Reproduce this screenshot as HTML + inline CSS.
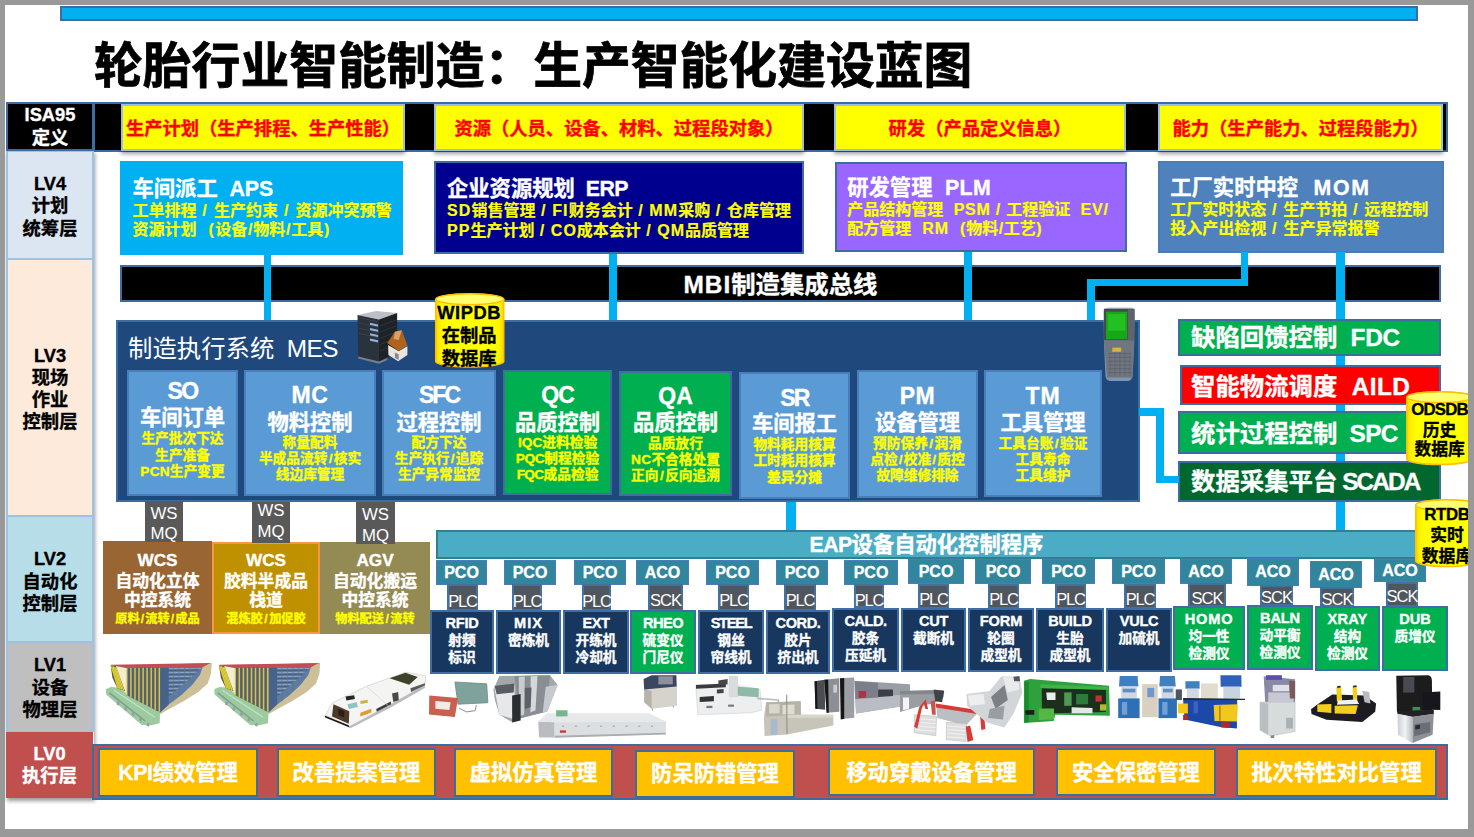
<!DOCTYPE html>
<html lang="zh-CN">
<head>
<meta charset="utf-8">
<title>轮胎行业智能制造：生产智能化建设蓝图</title>
<style>
html,body{margin:0;padding:0;}
body{width:1474px;height:837px;background:#999999;overflow:hidden;position:relative;
 font-family:"Liberation Sans","Noto Sans CJK SC",sans-serif;}
#slide{position:absolute;left:5px;top:5px;width:1463px;height:824px;background:#fff;overflow:hidden;}
#s{position:absolute;left:-5px;top:-5px;width:1474px;height:837px;}
.b{position:absolute;box-sizing:border-box;}
.l{position:absolute;left:-40px;right:-40px;text-align:center;white-space:nowrap;height:0;line-height:0;font-weight:700;-webkit-text-stroke:0.35px;}
.w{color:#fff;}
.y{color:#ffff00;}
.k{color:#000;}
.sh{}
.t{position:absolute;white-space:nowrap;line-height:0;height:0;font-weight:700;-webkit-text-stroke:0.35px;}
svg{position:absolute;overflow:visible;}
</style>
</head>
<body>
<div id="slide"><div id="s">

<div class="b" style="left:60px;top:6px;width:1358px;height:15px;background:#00b0f0;box-shadow:inset 0 0 0 2px #3d6c9e;"></div>
<div class="t k" style="left:94px;top:65.5px;font-size:48.8px;-webkit-text-stroke:0.8px;">轮胎行业智能制造：生产智能化建设蓝图</div>
<div class="b" style="left:93px;top:102px;width:1355px;height:50px;background:#000;box-shadow:inset 0 0 0 2px #3d6c9e;"></div>
<div class="b" style="left:6px;top:150px;width:88px;height:648px;box-shadow:1px 3px 4px rgba(0,0,0,.4);"></div>
<div class="b" style="left:6px;top:102px;width:88px;height:49px;background:#000;box-shadow:inset 0 0 0 2px #3d6c9e;"><div class="l" style="top:13.0px;color:#fff;font-size:18.3px;">ISA95</div><div class="l" style="top:36.4px;color:#fff;font-size:18.3px;">定义</div></div>
<div class="b" style="left:6px;top:151px;width:88px;height:108px;background:#dce6f2;box-shadow:inset 2px 0 0 #9cc2e5,inset -2px 0 0 #9cc2e5,inset 0 1px 0 #9cc2e5,inset 0 -1px 0 #9cc2e5;"><div class="l" style="top:32.8px;color:#000;font-size:18.3px;">LV4</div><div class="l" style="top:55.2px;color:#000;font-size:18.3px;">计划</div><div class="l" style="top:77.8px;color:#000;font-size:18.3px;">统筹层</div></div>
<div class="b" style="left:6px;top:259px;width:88px;height:257px;background:#fdeada;box-shadow:inset 2px 0 0 #9cc2e5,inset -2px 0 0 #9cc2e5,inset 0 1px 0 #9cc2e5,inset 0 -1px 0 #9cc2e5;"><div class="l" style="top:97.2px;color:#000;font-size:18.3px;">LV3</div><div class="l" style="top:119.1px;color:#000;font-size:18.3px;">现场</div><div class="l" style="top:140.6px;color:#000;font-size:18.3px;">作业</div><div class="l" style="top:162.5px;color:#000;font-size:18.3px;">控制层</div></div>
<div class="b" style="left:6px;top:516px;width:88px;height:126px;background:#b7dee8;box-shadow:inset 2px 0 0 #9cc2e5,inset -2px 0 0 #9cc2e5,inset 0 1px 0 #9cc2e5,inset 0 -1px 0 #9cc2e5;"><div class="l" style="top:43.0px;color:#000;font-size:18.3px;">LV2</div><div class="l" style="top:66.1px;color:#000;font-size:18.3px;">自动化</div><div class="l" style="top:88.0px;color:#000;font-size:18.3px;">控制层</div></div>
<div class="b" style="left:6px;top:642px;width:88px;height:90px;background:#bfbfbf;box-shadow:inset 2px 0 0 #9cc2e5,inset -2px 0 0 #9cc2e5,inset 0 1px 0 #9cc2e5,inset 0 -1px 0 #9cc2e5;"><div class="l" style="top:23.0px;color:#000;font-size:18.3px;">LV1</div><div class="l" style="top:45.5px;color:#000;font-size:18.3px;">设备</div><div class="l" style="top:68.0px;color:#000;font-size:18.3px;">物理层</div></div>
<div class="b" style="left:6px;top:732px;width:87px;height:66px;background:#c0504d;"><div class="l" style="top:22.0px;color:#fff;font-size:18.3px;">LV0</div><div class="l" style="top:44.0px;color:#fff;font-size:18.3px;">执行层</div></div>
<div class="b" style="left:121px;top:104px;width:284px;height:47px;background:#ffff00;box-shadow:inset 0 0 0 2px #9bbde8,0 3px 4px rgba(0,0,0,.38);"><div class="l" style="top:24.8px;color:#ff0000;font-size:18.3px;left:0;right:0;">生产计划（生产排程、生产性能）</div></div>
<div class="b" style="left:434px;top:104px;width:370px;height:47px;background:#ffff00;box-shadow:inset 0 0 0 2px #9bbde8,0 3px 4px rgba(0,0,0,.38);"><div class="l" style="top:24.8px;color:#ff0000;font-size:18.3px;left:0;right:0;">资源（人员、设备、材料、过程段对象）</div></div>
<div class="b" style="left:834px;top:104px;width:292px;height:47px;background:#ffff00;box-shadow:inset 0 0 0 2px #9bbde8,0 3px 4px rgba(0,0,0,.38);"><div class="l" style="top:24.8px;color:#ff0000;font-size:18.3px;left:0;right:0;">研发（产品定义信息）</div></div>
<div class="b" style="left:1158px;top:104px;width:285px;height:47px;background:#ffff00;box-shadow:inset 0 0 0 2px #9bbde8,0 3px 4px rgba(0,0,0,.38);"><div class="l" style="top:24.8px;color:#ff0000;font-size:18.3px;left:0;right:0;">能力（生产能力、过程段能力）</div></div>
<div class="b" style="left:1336px;top:252px;width:9px;height:280px;background:#00b0f0;"></div>
<div class="b" style="left:120px;top:161px;width:283px;height:94px;background:#00b0f0;"><div class="t w sh" style="left:12.5px;top:27.7px;font-size:21.3px;">车间派工<span style="letter-spacing:-0.06px">&nbsp; APS</span></div><div class="t y sh" style="left:12.5px;top:50.3px;font-size:16px;-webkit-text-stroke:0.2px;">工单排程<span style="letter-spacing:1.39px"> / </span>生产约束<span style="letter-spacing:1.39px"> / </span>资源冲突预警</div><div class="t y sh" style="left:12.5px;top:69.3px;font-size:16px;-webkit-text-stroke:0.2px;">资源计划<span style="letter-spacing:1.51px">&nbsp; (</span>设备<span style="margin:0 0.76px">/</span>物料<span style="margin:0 0.76px">/</span>工具<span style="margin:0 0.76px">)</span></div></div>
<div class="b" style="left:434px;top:161px;width:370px;height:93px;background:#00008e;box-shadow:inset 0 0 0 2px #3d6c9e;"><div class="t w sh" style="left:13px;top:27.8px;font-size:21.3px;">企业资源规划<span style="letter-spacing:-0.48px">&nbsp; ERP</span></div><div class="t y sh" style="left:13px;top:50.2px;font-size:16px;-webkit-text-stroke:0.2px;"><span style="letter-spacing:1.12px">SD</span>销售管理<span style="letter-spacing:1.12px"> / FI</span>财务会计<span style="letter-spacing:1.12px"> / MM</span>采购<span style="letter-spacing:1.12px"> / </span>仓库管理</div><div class="t y sh" style="left:13px;top:69.5px;font-size:16px;-webkit-text-stroke:0.2px;"><span style="letter-spacing:1.02px">PP</span>生产计划<span style="letter-spacing:1.02px"> / CO</span>成本会计<span style="letter-spacing:1.02px"> / QM</span>品质管理</div></div>
<div class="b" style="left:835px;top:162px;width:292px;height:90px;background:#9966ff;box-shadow:inset 0 0 0 2px #3d6c9e;"><div class="t w sh" style="left:12.25px;top:25.5px;font-size:21.3px;">研发管理<span style="letter-spacing:0.35px">&nbsp; PLM</span></div><div class="t y sh" style="left:12.25px;top:48.0px;font-size:16px;-webkit-text-stroke:0.2px;">产品结构管理<span style="letter-spacing:0.75px">&nbsp; PSM / </span>工程验证<span style="letter-spacing:0.75px">&nbsp; EV/</span></div><div class="t y sh" style="left:12.25px;top:66.8px;font-size:16px;-webkit-text-stroke:0.2px;">配方管理<span style="letter-spacing:1.00px">&nbsp; RM&nbsp; (</span>物料<span style="margin:0 0.50px">/</span>工艺<span style="margin:0 0.50px">)</span></div></div>
<div class="b" style="left:1158px;top:161px;width:286px;height:92px;background:#4f81bd;box-shadow:inset 0 0 0 2px #4a7cb6;"><div class="t w sh" style="left:12.25px;top:26.5px;font-size:21.3px;">工厂实时中控<span style="letter-spacing:1.77px">&nbsp; MOM</span></div><div class="t y sh" style="left:12.25px;top:49.4px;font-size:16px;-webkit-text-stroke:0.2px;">工厂实时状态<span style="letter-spacing:1.22px"> / </span>生产节拍<span style="letter-spacing:1.22px"> / </span>远程控制</div><div class="t y sh" style="left:12.25px;top:68.3px;font-size:16px;-webkit-text-stroke:0.2px;">投入产出检视<span style="letter-spacing:1.29px"> / </span>生产异常报警</div></div>
<div class="b" style="left:120px;top:265px;width:1321px;height:37px;background:#000;box-shadow:inset 0 0 0 2px #3d6c9e;"><div class="l w sh" style="top:19.5px;font-size:24.4px;left:0;right:0;"><span style="letter-spacing:0.98px">MBI</span>制造集成总线</div></div>
<div class="b" style="left:264px;top:255px;width:7px;height:66px;background:#00b0f0;"></div>
<div class="b" style="left:609px;top:254px;width:8px;height:67px;background:#00b0f0;"></div>
<div class="b" style="left:964px;top:252px;width:8px;height:69px;background:#00b0f0;"></div>
<div class="b" style="left:1336px;top:252px;width:9px;height:68px;background:#00b0f0;"></div>
<div class="b" style="left:1241px;top:252px;width:7px;height:34px;background:#00b0f0;"></div>
<div class="b" style="left:1087px;top:279px;width:161px;height:7px;background:#00b0f0;"></div>
<div class="b" style="left:1087px;top:279px;width:8px;height:42px;background:#00b0f0;"></div>
<div class="b" style="left:116px;top:320px;width:1024px;height:182px;background:#1f497d;box-shadow:inset 0 0 0 2px #3d6c9e;"><div class="t w" style="left:12px;top:29px;font-size:24.4px;font-weight:400;-webkit-text-stroke:0;">制造执行系统<span style="letter-spacing:-0.55px">&nbsp; MES</span></div></div>
<div class="b" style="left:127px;top:370px;width:111px;height:126px;background:#5b9bd5;box-shadow:inset 0 0 0 2px #4a7ebb;"><div class="l w sh" style="top:21.0px;font-size:23px;"><span style="letter-spacing:-1.72px">SO</span></div><div class="l w sh" style="top:47.5px;font-size:21.3px;">车间订单</div><div class="l y sh" style="top:68.5px;font-size:13.7px;">生产批次下达</div><div class="l y sh" style="top:85.5px;font-size:13.7px;">生产准备</div><div class="l y sh" style="top:102.0px;font-size:13.7px;"><span style="letter-spacing:0.20px">PCN</span>生产变更</div></div>
<div class="b" style="left:244px;top:370px;width:132px;height:126px;background:#5b9bd5;box-shadow:inset 0 0 0 2px #4a7ebb;"><div class="l w sh" style="top:25.0px;font-size:23px;"><span style="letter-spacing:0.61px">MC</span></div><div class="l w sh" style="top:52.5px;font-size:21.3px;">物料控制</div><div class="l y sh" style="top:72.5px;font-size:13.7px;">称量配料</div><div class="l y sh" style="top:89.0px;font-size:13.7px;">半成品流转<span style="margin:0 1.31px">/</span>核实</div><div class="l y sh" style="top:105.0px;font-size:13.7px;">线边库管理</div></div>
<div class="b" style="left:382px;top:370px;width:114px;height:126px;background:#5b9bd5;box-shadow:inset 0 0 0 2px #4a7ebb;"><div class="l w sh" style="top:25.0px;font-size:23px;"><span style="letter-spacing:-1.92px">SFC</span></div><div class="l w sh" style="top:52.5px;font-size:21.3px;">过程控制</div><div class="l y sh" style="top:72.5px;font-size:13.7px;">配方下达</div><div class="l y sh" style="top:89.0px;font-size:13.7px;">生产执行<span style="margin:0 1.28px">/</span>追踪</div><div class="l y sh" style="top:105.0px;font-size:13.7px;">生产异常监控</div></div>
<div class="b" style="left:503px;top:370px;width:109px;height:125px;background:#00b050;box-shadow:inset 0 0 0 2px #3f709c;"><div class="l w sh" style="top:25.0px;font-size:23px;"><span style="letter-spacing:-0.88px">QC</span></div><div class="l w sh" style="top:52.5px;font-size:21.3px;">品质控制</div><div class="l y sh" style="top:72.5px;font-size:13.7px;"><span style="letter-spacing:0.05px">IQC</span>进料检验</div><div class="l y sh" style="top:89.0px;font-size:13.7px;"><span style="letter-spacing:-0.39px">PQC</span>制程检验</div><div class="l y sh" style="top:105.0px;font-size:13.7px;"><span style="letter-spacing:-0.64px">FQC</span>成品检验</div></div>
<div class="b" style="left:619px;top:371px;width:113px;height:125px;background:#00b050;box-shadow:inset 0 0 0 2px #3f709c;"><div class="l w sh" style="top:25.0px;font-size:23px;"><span style="letter-spacing:0.12px">QA</span></div><div class="l w sh" style="top:52.0px;font-size:21.3px;">品质控制</div><div class="l y sh" style="top:72.5px;font-size:13.7px;">品质放行</div><div class="l y sh" style="top:88.5px;font-size:13.7px;"><span style="letter-spacing:0.27px">NC</span>不合格处置</div><div class="l y sh" style="top:105.0px;font-size:13.7px;">正向<span style="margin:0 1.41px">/</span>反向追溯</div></div>
<div class="b" style="left:739px;top:372px;width:111px;height:127px;background:#5b9bd5;box-shadow:inset 0 0 0 2px #4a7ebb;"><div class="l w sh" style="top:25.5px;font-size:23px;"><span style="letter-spacing:-1.73px">SR</span></div><div class="l w sh" style="top:52.0px;font-size:21.3px;">车间报工</div><div class="l y sh" style="top:72.5px;font-size:13.7px;">物料耗用核算</div><div class="l y sh" style="top:88.5px;font-size:13.7px;">工时耗用核算</div><div class="l y sh" style="top:106.0px;font-size:13.7px;">差异分摊</div></div>
<div class="b" style="left:857px;top:370px;width:121px;height:128px;background:#5b9bd5;box-shadow:inset 0 0 0 2px #4a7ebb;"><div class="l w sh" style="top:26.0px;font-size:23px;"><span style="letter-spacing:0.50px">PM</span></div><div class="l w sh" style="top:52.5px;font-size:21.3px;">设备管理</div><div class="l y sh" style="top:73.5px;font-size:13.7px;">预防保养<span style="margin:0 1.41px">/</span>润滑</div><div class="l y sh" style="top:89.5px;font-size:13.7px;">点检<span style="margin:0 1.13px">/</span>校准<span style="margin:0 1.13px">/</span>质控</div><div class="l y sh" style="top:106.0px;font-size:13.7px;">故障维修排除</div></div>
<div class="b" style="left:984px;top:370px;width:118px;height:127px;background:#5b9bd5;box-shadow:inset 0 0 0 2px #4a7ebb;"><div class="l w sh" style="top:26.0px;font-size:23px;"><span style="letter-spacing:1.02px">TM</span></div><div class="l w sh" style="top:52.5px;font-size:21.3px;">工具管理</div><div class="l y sh" style="top:73.5px;font-size:13.7px;">工具台账<span style="margin:0 1.41px">/</span>验证</div><div class="l y sh" style="top:89.5px;font-size:13.7px;">工具寿命</div><div class="l y sh" style="top:106.0px;font-size:13.7px;">工具维护</div></div>
<div class="b" style="left:1178px;top:319px;width:263px;height:37px;background:#00b050;box-shadow:inset 0 0 0 2px #3d6c9e;"><div class="t w sh" style="left:13px;top:18.5px;font-size:24.4px;">缺陷回馈控制<span style="letter-spacing:-0.21px">&nbsp; FDC</span></div></div>
<div class="b" style="left:1180px;top:365px;width:261px;height:40px;background:#ff0000;box-shadow:inset 0 0 0 2px #3d6c9e;"><div class="t w sh" style="left:11px;top:21.5px;font-size:24.4px;">智能物流调度<span style="letter-spacing:0.41px">&nbsp; AILD</span></div></div>
<div class="b" style="left:1178px;top:411px;width:263px;height:43px;background:#00b050;box-shadow:inset 0 0 0 2px #3d6c9e;"><div class="t w sh" style="left:13px;top:22.5px;font-size:24.4px;">统计过程控制<span style="letter-spacing:-0.66px">&nbsp; SPC</span></div></div>
<div class="b" style="left:1178px;top:461px;width:263px;height:41px;background:#00682f;box-shadow:inset 0 0 0 2px #3d6c9e;"><div class="t w sh" style="left:13px;top:21.0px;font-size:24.4px;">数据采集平台<span style="letter-spacing:-1.89px"> SCADA</span></div></div>
<div class="b" style="left:1139px;top:408px;width:25px;height:8px;background:#00b0f0;"></div>
<div class="b" style="left:1156px;top:408px;width:8px;height:75px;background:#00b0f0;"></div>
<div class="b" style="left:1156px;top:476px;width:23px;height:7px;background:#00b0f0;"></div>
<div class="b" style="left:786px;top:502px;width:10px;height:30px;background:#00b0f0;"></div>
<div class="b" style="left:103px;top:541px;width:109px;height:93px;background:#996633;"><div class="l w sh" style="top:19.0px;font-size:17.2px;">WCS</div><div class="l w sh" style="top:41.0px;font-size:16.8px;">自动化立体</div><div class="l w sh" style="top:60.0px;font-size:16.8px;">中控系统</div><div class="l y sh" style="top:77.5px;font-size:12.2px;">原料<span style="margin:0 1.15px">/</span>流转<span style="margin:0 1.15px">/</span>成品</div></div>
<div class="b" style="left:212px;top:542px;width:108px;height:92px;background:#bf9000;box-shadow:inset 0 0 0 2px #f79646;"><div class="l w sh" style="top:18.0px;font-size:17.2px;">WCS</div><div class="l w sh" style="top:40.0px;font-size:16.8px;">胶料半成品</div><div class="l w sh" style="top:59.0px;font-size:16.8px;">栈道</div><div class="l y sh" style="top:76.5px;font-size:12.2px;">混炼胶<span style="margin:0 1.49px">/</span>加促胶</div></div>
<div class="b" style="left:320px;top:542px;width:110px;height:92px;background:#948a54;"><div class="l w sh" style="top:18.0px;font-size:17.2px;">AGV</div><div class="l w sh" style="top:40.0px;font-size:16.8px;">自动化搬运</div><div class="l w sh" style="top:59.0px;font-size:16.8px;">中控系统</div><div class="l y sh" style="top:76.5px;font-size:12.2px;">物料配送<span style="margin:0 1.49px">/</span>流转</div></div>
<div class="b" style="left:145px;top:501px;width:38px;height:41px;background:#595959;"><div class="l w" style="top:12.5px;font-size:16.8px;font-weight:400;-webkit-text-stroke:0;">WS</div><div class="l w" style="top:33.2px;font-size:16.8px;font-weight:400;-webkit-text-stroke:0;">MQ</div></div>
<div class="b" style="left:252px;top:502px;width:38px;height:41px;background:#595959;"><div class="l w" style="top:9.2px;font-size:16.8px;font-weight:400;-webkit-text-stroke:0;">WS</div><div class="l w" style="top:29.8px;font-size:16.8px;font-weight:400;-webkit-text-stroke:0;">MQ</div></div>
<div class="b" style="left:356px;top:502px;width:39px;height:42px;background:#595959;"><div class="l w" style="top:12.6px;font-size:16.8px;font-weight:400;-webkit-text-stroke:0;">WS</div><div class="l w" style="top:33.5px;font-size:16.8px;font-weight:400;-webkit-text-stroke:0;">MQ</div></div>
<div class="b" style="left:436px;top:530px;width:1006px;height:29px;background:#4bacc6;box-shadow:inset 0 0 0 2px #357d91;"><div class="t w sh" style="left:373.5px;top:15.2px;font-size:21.3px;"><span style="letter-spacing:-0.57px">EAP</span>设备自动化控制程序</div></div>
<div class="b" style="left:436px;top:560px;width:51px;height:25px;background:#31859c;box-shadow:inset 0 0 0 1px #4a7ebb;"><div class="l w sh" style="top:13.0px;font-size:16px;">PCO</div></div>
<div class="b" style="left:504px;top:560px;width:52px;height:25px;background:#31859c;box-shadow:inset 0 0 0 1px #4a7ebb;"><div class="l w sh" style="top:13.0px;font-size:16px;">PCO</div></div>
<div class="b" style="left:574px;top:560px;width:52px;height:25px;background:#31859c;box-shadow:inset 0 0 0 1px #4a7ebb;"><div class="l w sh" style="top:13.0px;font-size:16px;">PCO</div></div>
<div class="b" style="left:636px;top:560px;width:53px;height:25px;background:#31859c;box-shadow:inset 0 0 0 1px #4a7ebb;"><div class="l w sh" style="top:13.0px;font-size:16px;">ACO</div></div>
<div class="b" style="left:706px;top:560px;width:53px;height:25px;background:#31859c;box-shadow:inset 0 0 0 1px #4a7ebb;"><div class="l w sh" style="top:13.0px;font-size:16px;">PCO</div></div>
<div class="b" style="left:776px;top:560px;width:52px;height:25px;background:#31859c;box-shadow:inset 0 0 0 1px #4a7ebb;"><div class="l w sh" style="top:13.0px;font-size:16px;">PCO</div></div>
<div class="b" style="left:844px;top:560px;width:54px;height:25px;background:#31859c;box-shadow:inset 0 0 0 1px #4a7ebb;"><div class="l w sh" style="top:13.0px;font-size:16px;">PCO</div></div>
<div class="b" style="left:908px;top:559px;width:56px;height:25px;background:#31859c;box-shadow:inset 0 0 0 1px #4a7ebb;"><div class="l w sh" style="top:13.1px;font-size:16px;">PCO</div></div>
<div class="b" style="left:975px;top:559px;width:56px;height:25px;background:#31859c;box-shadow:inset 0 0 0 1px #4a7ebb;"><div class="l w sh" style="top:13.1px;font-size:16px;">PCO</div></div>
<div class="b" style="left:1042px;top:559px;width:53px;height:25px;background:#31859c;box-shadow:inset 0 0 0 1px #4a7ebb;"><div class="l w sh" style="top:13.1px;font-size:16px;">PCO</div></div>
<div class="b" style="left:1112px;top:559px;width:53px;height:25px;background:#31859c;box-shadow:inset 0 0 0 1px #4a7ebb;"><div class="l w sh" style="top:13.1px;font-size:16px;">PCO</div></div>
<div class="b" style="left:1180px;top:559px;width:52px;height:25px;background:#31859c;box-shadow:inset 0 0 0 1px #4a7ebb;"><div class="l w sh" style="top:12.8px;font-size:16px;">ACO</div></div>
<div class="b" style="left:1247px;top:558px;width:52px;height:28px;background:#31859c;box-shadow:inset 0 0 0 1px #4a7ebb;"><div class="l w sh" style="top:14.1px;font-size:16px;">ACO</div></div>
<div class="b" style="left:1310px;top:561px;width:52px;height:27px;background:#31859c;box-shadow:inset 0 0 0 1px #4a7ebb;"><div class="l w sh" style="top:13.6px;font-size:16px;">ACO</div></div>
<div class="b" style="left:1374px;top:559px;width:52px;height:23px;background:#31859c;box-shadow:inset 0 0 0 1px #4a7ebb;"><div class="l w sh" style="top:12.1px;font-size:16px;">ACO</div></div>
<div class="b" style="left:447px;top:584px;width:31px;height:27px;background:#50565e;box-shadow:inset 0 0 0 2px #41719c;"><div class="l w" style="top:16.5px;font-size:16.5px;font-weight:400;letter-spacing:-1.2px;-webkit-text-stroke:0;">PLC</div></div>
<div class="b" style="left:512px;top:584px;width:30px;height:27px;background:#50565e;box-shadow:inset 0 0 0 2px #41719c;"><div class="l w" style="top:16.5px;font-size:16.5px;font-weight:400;letter-spacing:-1.2px;-webkit-text-stroke:0;">PLC</div></div>
<div class="b" style="left:582px;top:584px;width:29px;height:27px;background:#50565e;box-shadow:inset 0 0 0 2px #41719c;"><div class="l w" style="top:16.5px;font-size:16.5px;font-weight:400;letter-spacing:-1.2px;-webkit-text-stroke:0;">PLC</div></div>
<div class="b" style="left:648px;top:584px;width:35px;height:27px;background:#50565e;box-shadow:inset 0 0 0 2px #41719c;"><div class="l w" style="top:15.6px;font-size:16.5px;font-weight:400;letter-spacing:-0.9px;-webkit-text-stroke:0;">SCK</div></div>
<div class="b" style="left:718px;top:584px;width:31px;height:27px;background:#50565e;box-shadow:inset 0 0 0 2px #41719c;"><div class="l w" style="top:15.6px;font-size:16.5px;font-weight:400;letter-spacing:-1.2px;-webkit-text-stroke:0;">PLC</div></div>
<div class="b" style="left:784px;top:584px;width:32px;height:27px;background:#50565e;box-shadow:inset 0 0 0 2px #41719c;"><div class="l w" style="top:15.6px;font-size:16.5px;font-weight:400;letter-spacing:-1.2px;-webkit-text-stroke:0;">PLC</div></div>
<div class="b" style="left:854px;top:584px;width:30px;height:24px;background:#50565e;box-shadow:inset 0 0 0 2px #41719c;"><div class="l w" style="top:15.6px;font-size:16.5px;font-weight:400;letter-spacing:-1.2px;-webkit-text-stroke:0;">PLC</div></div>
<div class="b" style="left:918px;top:584px;width:31px;height:25px;background:#50565e;box-shadow:inset 0 0 0 2px #41719c;"><div class="l w" style="top:14.9px;font-size:16.5px;font-weight:400;letter-spacing:-1.2px;-webkit-text-stroke:0;">PLC</div></div>
<div class="b" style="left:988px;top:584px;width:31px;height:25px;background:#50565e;box-shadow:inset 0 0 0 2px #41719c;"><div class="l w" style="top:14.9px;font-size:16.5px;font-weight:400;letter-spacing:-1.2px;-webkit-text-stroke:0;">PLC</div></div>
<div class="b" style="left:1055px;top:584px;width:31px;height:25px;background:#50565e;box-shadow:inset 0 0 0 2px #41719c;"><div class="l w" style="top:14.9px;font-size:16.5px;font-weight:400;letter-spacing:-1.2px;-webkit-text-stroke:0;">PLC</div></div>
<div class="b" style="left:1124px;top:584px;width:32px;height:25px;background:#50565e;box-shadow:inset 0 0 0 2px #41719c;"><div class="l w" style="top:14.9px;font-size:16.5px;font-weight:400;letter-spacing:-1.2px;-webkit-text-stroke:0;">PLC</div></div>
<div class="b" style="left:1188px;top:583px;width:38px;height:24px;background:#50565e;box-shadow:inset 0 0 0 2px #41719c;"><div class="l w" style="top:15.0px;font-size:16.5px;font-weight:400;letter-spacing:-0.9px;-webkit-text-stroke:0;">SCK</div></div>
<div class="b" style="left:1260px;top:585px;width:33px;height:21px;background:#50565e;box-shadow:inset 0 0 0 2px #41719c;"><div class="l w" style="top:11.8px;font-size:16.5px;font-weight:400;letter-spacing:-0.9px;-webkit-text-stroke:0;">SCK</div></div>
<div class="b" style="left:1320px;top:587px;width:34px;height:20px;background:#50565e;box-shadow:inset 0 0 0 2px #41719c;"><div class="l w" style="top:11.9px;font-size:16.5px;font-weight:400;letter-spacing:-0.9px;-webkit-text-stroke:0;">SCK</div></div>
<div class="b" style="left:1386px;top:582px;width:32px;height:25px;background:#50565e;box-shadow:inset 0 0 0 2px #41719c;"><div class="l w" style="top:14.1px;font-size:16.5px;font-weight:400;letter-spacing:-0.9px;-webkit-text-stroke:0;">SCK</div></div>
<div class="b" style="left:430px;top:610px;width:64px;height:64px;background:#17375e;box-shadow:inset 0 0 0 2px #3e6ea5;"><div class="l w sh" style="top:12.6px;font-size:14.6px;"><span style="letter-spacing:-0.22px">RFID</span></div><div class="l w sh" style="top:31.2px;font-size:13.7px;">射频</div><div class="l w sh" style="top:47.6px;font-size:13.7px;">标识</div></div>
<div class="b" style="left:496px;top:610px;width:65px;height:64px;background:#17375e;box-shadow:inset 0 0 0 2px #3e6ea5;"><div class="l w sh" style="top:12.6px;font-size:14.6px;"><span style="letter-spacing:1.02px">MIX</span></div><div class="l w sh" style="top:31.2px;font-size:13.7px;">密炼机</div></div>
<div class="b" style="left:563px;top:610px;width:66px;height:64px;background:#17375e;box-shadow:inset 0 0 0 2px #3e6ea5;"><div class="l w sh" style="top:12.6px;font-size:14.6px;"><span style="letter-spacing:-0.53px">EXT</span></div><div class="l w sh" style="top:31.2px;font-size:13.7px;">开练机</div><div class="l w sh" style="top:47.6px;font-size:13.7px;">冷却机</div></div>
<div class="b" style="left:630px;top:610px;width:66px;height:64px;background:#00b050;box-shadow:inset 0 0 0 2px #3e6ea5;"><div class="l w sh" style="top:12.6px;font-size:14.6px;"><span style="letter-spacing:-0.54px">RHEO</span></div><div class="l w sh" style="top:31.2px;font-size:13.7px;">硫变仪</div><div class="l w sh" style="top:47.6px;font-size:13.7px;">门尼仪</div></div>
<div class="b" style="left:698px;top:610px;width:66px;height:64px;background:#17375e;box-shadow:inset 0 0 0 2px #3e6ea5;"><div class="l w sh" style="top:12.6px;font-size:14.6px;"><span style="letter-spacing:-1.27px">STEEL</span></div><div class="l w sh" style="top:31.2px;font-size:13.7px;">钢丝</div><div class="l w sh" style="top:47.6px;font-size:13.7px;">帘线机</div></div>
<div class="b" style="left:766px;top:610px;width:64px;height:64px;background:#17375e;box-shadow:inset 0 0 0 2px #3e6ea5;"><div class="l w sh" style="top:12.6px;font-size:14.6px;"><span style="letter-spacing:-0.43px">CORD.</span></div><div class="l w sh" style="top:31.2px;font-size:13.7px;">胶片</div><div class="l w sh" style="top:47.6px;font-size:13.7px;">挤出机</div></div>
<div class="b" style="left:832px;top:608px;width:67px;height:64px;background:#17375e;box-shadow:inset 0 0 0 2px #3e6ea5;"><div class="l w sh" style="top:12.6px;font-size:14.6px;"><span style="letter-spacing:-0.54px">CALD.</span></div><div class="l w sh" style="top:31.2px;font-size:13.7px;">胶条</div><div class="l w sh" style="top:47.6px;font-size:13.7px;">压延机</div></div>
<div class="b" style="left:901px;top:608px;width:65px;height:64px;background:#17375e;box-shadow:inset 0 0 0 2px #3e6ea5;"><div class="l w sh" style="top:12.6px;font-size:14.6px;"><span style="letter-spacing:-0.27px">CUT</span></div><div class="l w sh" style="top:31.2px;font-size:13.7px;">截断机</div></div>
<div class="b" style="left:968px;top:608px;width:66px;height:64px;background:#17375e;box-shadow:inset 0 0 0 2px #3e6ea5;"><div class="l w sh" style="top:12.6px;font-size:14.6px;"><span style="letter-spacing:-0.14px">FORM</span></div><div class="l w sh" style="top:31.2px;font-size:13.7px;">轮圈</div><div class="l w sh" style="top:47.6px;font-size:13.7px;">成型机</div></div>
<div class="b" style="left:1036px;top:608px;width:68px;height:64px;background:#17375e;box-shadow:inset 0 0 0 2px #3e6ea5;"><div class="l w sh" style="top:12.6px;font-size:14.6px;"><span style="letter-spacing:-0.18px">BUILD</span></div><div class="l w sh" style="top:31.2px;font-size:13.7px;">生胎</div><div class="l w sh" style="top:47.6px;font-size:13.7px;">成型机</div></div>
<div class="b" style="left:1106px;top:608px;width:66px;height:64px;background:#17375e;box-shadow:inset 0 0 0 2px #3e6ea5;"><div class="l w sh" style="top:12.6px;font-size:14.6px;"><span style="letter-spacing:-0.26px">VULC</span></div><div class="l w sh" style="top:31.2px;font-size:13.7px;">加硫机</div></div>
<div class="b" style="left:1173px;top:606px;width:72px;height:64px;background:#00b050;box-shadow:inset 0 0 0 2px #3e6ea5;"><div class="l w sh" style="top:12.6px;font-size:14.6px;"><span style="letter-spacing:0.82px">HOMO</span></div><div class="l w sh" style="top:31.2px;font-size:13.7px;">均一性</div><div class="l w sh" style="top:47.6px;font-size:13.7px;">检测仪</div></div>
<div class="b" style="left:1247px;top:605px;width:66px;height:65px;background:#00b050;box-shadow:inset 0 0 0 2px #3e6ea5;"><div class="l w sh" style="top:12.6px;font-size:14.6px;"><span style="letter-spacing:-0.16px">BALN</span></div><div class="l w sh" style="top:31.2px;font-size:13.7px;">动平衡</div><div class="l w sh" style="top:47.6px;font-size:13.7px;">检测仪</div></div>
<div class="b" style="left:1315px;top:606px;width:65px;height:65px;background:#00b050;box-shadow:inset 0 0 0 2px #3e6ea5;"><div class="l w sh" style="top:12.6px;font-size:14.6px;"><span style="letter-spacing:0.17px">XRAY</span></div><div class="l w sh" style="top:31.2px;font-size:13.7px;">结构</div><div class="l w sh" style="top:47.6px;font-size:13.7px;">检测仪</div></div>
<div class="b" style="left:1382px;top:606px;width:66px;height:65px;background:#00b050;box-shadow:inset 0 0 0 2px #3e6ea5;"><div class="l w sh" style="top:12.6px;font-size:14.6px;"><span style="letter-spacing:0.02px">DUB</span></div><div class="l w sh" style="top:31.2px;font-size:13.7px;">质增仪</div></div>
<div class="b" style="left:92px;top:744px;width:1356px;height:56px;background:#c0504d;box-shadow:inset 0 0 0 2px #3d6c9e;"></div>
<div class="b" style="left:98px;top:748px;width:160px;height:49px;background:#ffc000;box-shadow:inset 0 0 0 2px #3d6c9e;"><div class="l w" style="top:24.8px;font-size:21.3px;"><span style="letter-spacing:-0.32px">KPI</span>绩效管理</div></div>
<div class="b" style="left:277px;top:748px;width:159px;height:49px;background:#ffc000;box-shadow:inset 0 0 0 2px #3d6c9e;"><div class="l w" style="top:24.8px;font-size:21.3px;">改善提案管理</div></div>
<div class="b" style="left:454px;top:748px;width:159px;height:49px;background:#ffc000;box-shadow:inset 0 0 0 2px #3d6c9e;"><div class="l w" style="top:25.0px;font-size:21.3px;">虚拟仿真管理</div></div>
<div class="b" style="left:635px;top:750px;width:160px;height:48px;background:#ffc000;box-shadow:inset 0 0 0 2px #3d6c9e;"><div class="l w" style="top:24.2px;font-size:21.3px;">防呆防错管理</div></div>
<div class="b" style="left:828px;top:748px;width:207px;height:48px;background:#ffc000;box-shadow:inset 0 0 0 2px #3d6c9e;"><div class="l w" style="top:25.0px;font-size:21.3px;">移动穿戴设备管理</div></div>
<div class="b" style="left:1056px;top:748px;width:160px;height:48px;background:#ffc000;box-shadow:inset 0 0 0 2px #3d6c9e;"><div class="l w" style="top:24.5px;font-size:21.3px;">安全保密管理</div></div>
<div class="b" style="left:1236px;top:748px;width:201px;height:49px;background:#ffc000;box-shadow:inset 0 0 0 2px #3d6c9e;"><div class="l w" style="top:24.8px;font-size:21.3px;">批次特性对比管理</div></div>
<svg style="left:0;top:0" width="1474" height="837" viewBox="0 0 1474 837"><defs><filter id="bl" x="-5%" y="-5%" width="110%" height="110%"><feGaussianBlur stdDeviation="0.7"/></filter><linearGradient id="dubg" x1="0" x2="1" y1="0" y2="0"><stop offset="0" stop-color="#c9ced2"/><stop offset="0.5" stop-color="#f2f4f5"/><stop offset="1" stop-color="#b5babf"/></linearGradient></defs><g filter="url(#bl)"><polygon points="105.9,689.3 110.9,687.1 117.5,687.4 160.1,712.1 159.6,723.3 151.5,725.2 141.8,724.9 123.4,709.3 106.2,694.5" fill="#9ccba0" /><polyline points="109.4,692.9 145.2,721.0" fill="none" stroke="#7f9a92" stroke-width="1.4" /><polyline points="114.0,690.3 154.6,717.1" fill="none" stroke="#c6e3c4" stroke-width="1.2" /><polygon points="117.2,701.5 119.7,702.1 119.0,705.5 116.5,704.6" fill="#8fa3a0" /><polygon points="124.7,706.8 127.1,707.4 126.5,710.9 124.0,709.9" fill="#8fa3a0" /><polygon points="132.1,712.1 134.6,712.7 134.0,716.2 131.5,715.2" fill="#8fa3a0" /><polygon points="139.6,717.4 142.1,718.0 141.5,721.5 139.0,720.5" fill="#8fa3a0" /><polygon points="147.1,722.7 149.6,723.3 149.0,726.8 146.5,725.8" fill="#8fa3a0" /><polygon points="202.2,665.3 211.7,663.1 211.1,673.4 207.7,683.5 198.3,692.1 184.3,700.7 168.7,709.3 160.1,714.3 160.1,712.1" fill="#cdbf96" /><polygon points="160.1,666.2 203.3,665.1 199.9,675.0 192.1,685.1 181.1,695.2 168.7,704.6 160.1,712.4" fill="#5b7ba5" /><polyline points="160.5,668.7 201.4,668.3" fill="none" stroke="#93b2d6" stroke-width="0.8" /><polyline points="160.5,670.6 199.2,670.1" fill="none" stroke="#42587c" stroke-width="0.9" /><polyline points="160.5,672.8 196.7,672.3" fill="none" stroke="#93b2d6" stroke-width="0.8" /><polyline points="160.5,674.7 194.6,674.2" fill="none" stroke="#42587c" stroke-width="0.9" /><polyline points="160.5,676.8 192.1,676.4" fill="none" stroke="#93b2d6" stroke-width="0.8" /><polyline points="160.5,678.7 189.9,678.2" fill="none" stroke="#42587c" stroke-width="0.9" /><polyline points="160.5,680.9 187.4,680.4" fill="none" stroke="#93b2d6" stroke-width="0.8" /><polyline points="160.5,682.8 185.2,682.3" fill="none" stroke="#42587c" stroke-width="0.9" /><polyline points="160.5,685.0 182.7,684.5" fill="none" stroke="#93b2d6" stroke-width="0.8" /><polyline points="160.5,686.8 180.5,686.4" fill="none" stroke="#42587c" stroke-width="0.9" /><polyline points="160.5,689.0 178.0,688.5" fill="none" stroke="#93b2d6" stroke-width="0.8" /><polyline points="160.5,690.9 175.8,690.4" fill="none" stroke="#42587c" stroke-width="0.9" /><polyline points="160.5,693.1 173.3,692.6" fill="none" stroke="#93b2d6" stroke-width="0.8" /><polyline points="160.5,694.9 171.1,694.5" fill="none" stroke="#42587c" stroke-width="0.9" /><polyline points="160.5,697.1 168.7,696.7" fill="none" stroke="#93b2d6" stroke-width="0.8" /><polyline points="160.5,699.0 166.5,698.5" fill="none" stroke="#42587c" stroke-width="0.9" /><polyline points="160.5,701.2 164.0,700.7" fill="none" stroke="#93b2d6" stroke-width="0.8" /><polyline points="160.5,703.1 162.4,702.6" fill="none" stroke="#42587c" stroke-width="0.9" /><polyline points="160.5,705.2 162.4,704.8" fill="none" stroke="#93b2d6" stroke-width="0.8" /><polyline points="160.5,707.1 162.4,706.6" fill="none" stroke="#42587c" stroke-width="0.9" /><polyline points="173.3,666.2 173.3,701.5" fill="none" stroke="#7a6f5a" stroke-width="0.6" /><polyline points="179.0,666.2 179.0,694.9" fill="none" stroke="#7a6f5a" stroke-width="0.6" /><polyline points="184.6,666.2 184.6,688.4" fill="none" stroke="#7a6f5a" stroke-width="0.6" /><polyline points="190.2,666.2 190.2,681.8" fill="none" stroke="#7a6f5a" stroke-width="0.6" /><polyline points="195.8,666.2 195.8,675.3" fill="none" stroke="#7a6f5a" stroke-width="0.6" /><polyline points="201.4,666.2 201.4,668.7" fill="none" stroke="#7a6f5a" stroke-width="0.6" /><polygon points="160.1,666.2 168.7,666.1 168.7,704.6 160.1,712.4" fill="#48628a" /><polygon points="126.2,667.5 160.1,666.2 160.1,712.4 126.2,694.9" fill="#56607a" /><polyline points="126.8,667.5 126.8,695.6" fill="none" stroke="#d6c63a" stroke-width="1.5" /><polyline points="130.9,667.5 130.9,697.6" fill="none" stroke="#d6c63a" stroke-width="1.5" /><polyline points="135.0,667.5 135.0,699.6" fill="none" stroke="#d6c63a" stroke-width="1.5" /><polyline points="139.0,667.5 139.0,701.6" fill="none" stroke="#d6c63a" stroke-width="1.5" /><polyline points="143.1,667.5 143.1,703.7" fill="none" stroke="#d6c63a" stroke-width="1.5" /><polyline points="147.1,667.5 147.1,705.7" fill="none" stroke="#d6c63a" stroke-width="1.5" /><polyline points="151.2,667.5 151.2,707.7" fill="none" stroke="#d6c63a" stroke-width="1.5" /><polyline points="155.2,667.5 155.2,709.8" fill="none" stroke="#d6c63a" stroke-width="1.5" /><polyline points="159.3,667.5 159.3,711.8" fill="none" stroke="#d6c63a" stroke-width="1.5" /><polygon points="115.3,665.6 126.5,667.5 126.5,694.5 123.4,689.8" fill="#f1edd2" /><polygon points="110.6,665.3 115.6,665.6 125.0,690.9 117.5,688.4 112.5,678.1" fill="#5a5b3c" /><polyline points="111.5,666.2 118.4,688.4" fill="none" stroke="#dccb38" stroke-width="1.6" /><polyline points="113.0,666.5 120.1,689.0" fill="none" stroke="#dccb38" stroke-width="1.6" /><polyline points="114.4,666.9 121.8,689.6" fill="none" stroke="#dccb38" stroke-width="1.6" /><polyline points="115.8,667.2 123.6,690.3" fill="none" stroke="#dccb38" stroke-width="1.6" /><polygon points="110.6,664.7 211.7,663.1 203.0,665.8 151.5,667.3 126.2,668.1 115.3,665.9" fill="#c34d57" /><polygon points="151.5,664.4 209.2,663.4 202.2,667.6 160.1,667.8 151.5,667.3" fill="#c34d57" /><polygon points="214.3,689.3 219.3,687.1 225.9,687.4 268.5,712.1 268.0,723.3 259.9,725.2 250.2,724.9 231.8,709.3 214.6,694.5" fill="#9ccba0" /><polyline points="217.8,692.9 253.6,721.0" fill="none" stroke="#7f9a92" stroke-width="1.4" /><polyline points="222.4,690.3 263.0,717.1" fill="none" stroke="#c6e3c4" stroke-width="1.2" /><polygon points="225.6,701.5 228.1,702.1 227.4,705.5 224.9,704.6" fill="#8fa3a0" /><polygon points="233.1,706.8 235.5,707.4 234.9,710.9 232.4,709.9" fill="#8fa3a0" /><polygon points="240.5,712.1 243.0,712.7 242.4,716.2 239.9,715.2" fill="#8fa3a0" /><polygon points="248.0,717.4 250.5,718.0 249.9,721.5 247.4,720.5" fill="#8fa3a0" /><polygon points="255.5,722.7 258.0,723.3 257.4,726.8 254.9,725.8" fill="#8fa3a0" /><polygon points="310.6,665.3 320.1,663.1 319.5,673.4 316.1,683.5 306.7,692.1 292.7,700.7 277.1,709.3 268.5,714.3 268.5,712.1" fill="#cdbf96" /><polygon points="268.5,666.2 311.7,665.1 308.3,675.0 300.5,685.1 289.5,695.2 277.1,704.6 268.5,712.4" fill="#5b7ba5" /><polyline points="268.9,668.7 309.8,668.3" fill="none" stroke="#93b2d6" stroke-width="0.8" /><polyline points="268.9,670.6 307.6,670.1" fill="none" stroke="#42587c" stroke-width="0.9" /><polyline points="268.9,672.8 305.1,672.3" fill="none" stroke="#93b2d6" stroke-width="0.8" /><polyline points="268.9,674.7 303.0,674.2" fill="none" stroke="#42587c" stroke-width="0.9" /><polyline points="268.9,676.8 300.5,676.4" fill="none" stroke="#93b2d6" stroke-width="0.8" /><polyline points="268.9,678.7 298.3,678.2" fill="none" stroke="#42587c" stroke-width="0.9" /><polyline points="268.9,680.9 295.8,680.4" fill="none" stroke="#93b2d6" stroke-width="0.8" /><polyline points="268.9,682.8 293.6,682.3" fill="none" stroke="#42587c" stroke-width="0.9" /><polyline points="268.9,685.0 291.1,684.5" fill="none" stroke="#93b2d6" stroke-width="0.8" /><polyline points="268.9,686.8 288.9,686.4" fill="none" stroke="#42587c" stroke-width="0.9" /><polyline points="268.9,689.0 286.4,688.5" fill="none" stroke="#93b2d6" stroke-width="0.8" /><polyline points="268.9,690.9 284.2,690.4" fill="none" stroke="#42587c" stroke-width="0.9" /><polyline points="268.9,693.1 281.7,692.6" fill="none" stroke="#93b2d6" stroke-width="0.8" /><polyline points="268.9,694.9 279.5,694.5" fill="none" stroke="#42587c" stroke-width="0.9" /><polyline points="268.9,697.1 277.1,696.7" fill="none" stroke="#93b2d6" stroke-width="0.8" /><polyline points="268.9,699.0 274.9,698.5" fill="none" stroke="#42587c" stroke-width="0.9" /><polyline points="268.9,701.2 272.4,700.7" fill="none" stroke="#93b2d6" stroke-width="0.8" /><polyline points="268.9,703.1 270.8,702.6" fill="none" stroke="#42587c" stroke-width="0.9" /><polyline points="268.9,705.2 270.8,704.8" fill="none" stroke="#93b2d6" stroke-width="0.8" /><polyline points="268.9,707.1 270.8,706.6" fill="none" stroke="#42587c" stroke-width="0.9" /><polyline points="281.7,666.2 281.7,701.5" fill="none" stroke="#7a6f5a" stroke-width="0.6" /><polyline points="287.4,666.2 287.4,694.9" fill="none" stroke="#7a6f5a" stroke-width="0.6" /><polyline points="293.0,666.2 293.0,688.4" fill="none" stroke="#7a6f5a" stroke-width="0.6" /><polyline points="298.6,666.2 298.6,681.8" fill="none" stroke="#7a6f5a" stroke-width="0.6" /><polyline points="304.2,666.2 304.2,675.3" fill="none" stroke="#7a6f5a" stroke-width="0.6" /><polyline points="309.8,666.2 309.8,668.7" fill="none" stroke="#7a6f5a" stroke-width="0.6" /><polygon points="268.5,666.2 277.1,666.1 277.1,704.6 268.5,712.4" fill="#48628a" /><polygon points="234.6,667.5 268.5,666.2 268.5,712.4 234.6,694.9" fill="#56607a" /><polyline points="235.2,667.5 235.2,695.6" fill="none" stroke="#d6c63a" stroke-width="1.5" /><polyline points="239.3,667.5 239.3,697.6" fill="none" stroke="#d6c63a" stroke-width="1.5" /><polyline points="243.4,667.5 243.4,699.6" fill="none" stroke="#d6c63a" stroke-width="1.5" /><polyline points="247.4,667.5 247.4,701.6" fill="none" stroke="#d6c63a" stroke-width="1.5" /><polyline points="251.5,667.5 251.5,703.7" fill="none" stroke="#d6c63a" stroke-width="1.5" /><polyline points="255.5,667.5 255.5,705.7" fill="none" stroke="#d6c63a" stroke-width="1.5" /><polyline points="259.6,667.5 259.6,707.7" fill="none" stroke="#d6c63a" stroke-width="1.5" /><polyline points="263.6,667.5 263.6,709.8" fill="none" stroke="#d6c63a" stroke-width="1.5" /><polyline points="267.7,667.5 267.7,711.8" fill="none" stroke="#d6c63a" stroke-width="1.5" /><polygon points="223.7,665.6 234.9,667.5 234.9,694.5 231.8,689.8" fill="#f1edd2" /><polygon points="219.0,665.3 224.0,665.6 233.4,690.9 225.9,688.4 220.9,678.1" fill="#5a5b3c" /><polyline points="219.9,666.2 226.8,688.4" fill="none" stroke="#dccb38" stroke-width="1.6" /><polyline points="221.4,666.5 228.5,689.0" fill="none" stroke="#dccb38" stroke-width="1.6" /><polyline points="222.8,666.9 230.2,689.6" fill="none" stroke="#dccb38" stroke-width="1.6" /><polyline points="224.2,667.2 232.0,690.3" fill="none" stroke="#dccb38" stroke-width="1.6" /><polygon points="219.0,664.7 320.1,663.1 311.4,665.8 259.9,667.3 234.6,668.1 223.7,665.9" fill="#c34d57" /><polygon points="259.9,664.4 317.6,663.4 310.6,667.6 268.5,667.8 259.9,667.3" fill="#c34d57" /><polygon points="325.5,715.2 332.2,703.0 366.4,686.3 405.5,672.2 425.6,675.9 425.0,685.0 388.4,705.8 349.3,726.5" fill="#f4f4f2" stroke="#cfcfcf" stroke-width="0.7"/><polygon points="349.3,726.5 388.4,705.8 425.0,685.0 424.8,688.1 388.4,708.8 349.9,728.4" fill="#b9bbbd" /><polygon points="324.6,715.6 348.7,725.3 349.5,727.4 325.1,717.6" fill="#1f1f1f" /><polygon points="333.4,704.2 349.3,711.3 348.8,723.7 332.0,716.4" fill="#4d3b2b" /><polygon points="338.3,708.8 344.4,711.3 344.2,717.4 338.3,715.2" fill="#2a1c14" /><polygon points="345.6,696.6 354.2,695.2 354.9,699.1 346.4,700.5" fill="#262626" /><polygon points="347.5,704.2 356.6,702.2 357.9,707.1 348.8,709.1" fill="#8fc2c2" /><polygon points="360.3,701.0 367.6,699.7 367.9,702.7 360.5,704.1" fill="#c9b540" /><polygon points="360.3,712.7 371.3,708.8 371.3,712.5 360.3,716.4" fill="#e39a2c" /><polygon points="392.0,693.6 398.1,692.0 398.8,700.3 393.3,702.1" fill="#4a4a4a" /><polygon points="376.2,709.1 390.8,701.5 391.1,704.2 376.8,711.8" fill="#3a3a3a" /><polygon points="389.6,678.3 405.5,672.7 417.7,677.1 409.1,684.7" fill="#3e4229" /><polygon points="410.4,688.3 425.0,683.2 425.0,685.2 411.1,692.0" fill="#5a5a5a" /><polyline points="366.4,686.3 388.4,705.8" fill="none" stroke="#d5d5d5" stroke-width="0.7" /><polygon points="454.9,682.0 486.7,683.8 487.9,702.7 458.0,704.2" fill="#7fa39c" stroke="#6a8c86" stroke-width="0.8" stroke-linejoin="round"/><polyline points="459.2,708.2 466.5,711.9 475.1,710.7 476.3,705.2" fill="none" stroke="#8a8f92" stroke-width="1.0" /><polygon points="429.3,695.4 458.0,697.9 454.9,716.9 429.0,714.5" fill="#c85e50" /><polygon points="435.4,701.0 450.6,702.2 449.4,710.1 435.4,708.8" fill="#f1ebe6" /><polygon points="499.4,676.0 550.1,675.2 557.6,684.9 547.2,711.5 520.3,718.5 512.8,722.5 499.4,714.8 494.9,699.9 493.4,689.4" fill="#a3a7ac" /><polygon points="514.3,676.0 550.1,675.2 545.7,711.8 520.3,718.1" fill="#8a8d93" /><polygon points="518.8,676.7 524.8,676.6 524.2,714.8 519.1,716.3" fill="#c9ccd0" /><polygon points="530.7,676.3 537.5,676.1 535.5,710.3 530.4,712.5" fill="#d5d8db" /><polygon points="524.8,687.9 531.5,687.6 530.7,707.3 524.8,709.1" fill="#5d6066" /><polygon points="494.2,686.7 514.3,683.7 515.2,719.6 499.4,714.8" fill="#e6e8ea" /><polygon points="494.6,686.1 514.3,683.4 513.7,692.4 496.7,694.2" fill="#5a5d62" /><polygon points="512.1,695.4 520.6,693.9 520.6,720.4 512.2,722.5" fill="#2c2e33" /><polygon points="545.7,686.7 557.6,684.9 547.5,711.2 542.7,712.7" fill="#c6c9cd" /><polygon points="538.2,721.5 554.6,722.2 554.6,737.5 539.1,737.5" fill="#b9bdc1" /><polygon points="547.2,713.3 648.7,713.3 666.1,721.5 554.6,722.2 538.2,721.5" fill="#e6e8e9" /><polygon points="554.6,722.2 666.1,721.5 665.8,734.2 554.6,737.5" fill="#dcdfe1" /><polygon points="554.6,735.7 665.8,732.7 665.8,734.5 554.6,737.8" fill="#a9adb1" /><polygon points="556.1,710.3 567.5,710.3 567.5,716.3 556.1,716.6" fill="#74b78a" /><polygon points="559.9,730.4 566.0,730.4 566.0,732.7 559.9,732.7" fill="#d23030" /><polygon points="562.1,725.5 564.2,725.5 564.2,727.0 562.1,727.0" fill="#aeb4ba" /><polygon points="574.8,725.5 576.9,725.5 576.9,727.0 574.8,727.0" fill="#aeb4ba" /><polygon points="587.5,725.5 589.6,725.5 589.6,727.0 587.5,727.0" fill="#aeb4ba" /><polygon points="600.1,725.5 602.2,725.5 602.2,727.0 600.1,727.0" fill="#aeb4ba" /><polygon points="612.8,725.5 614.9,725.5 614.9,727.0 612.8,727.0" fill="#aeb4ba" /><polygon points="625.5,725.5 627.6,725.5 627.6,727.0 625.5,727.0" fill="#aeb4ba" /><polygon points="638.2,725.5 640.3,725.5 640.3,727.0 638.2,727.0" fill="#aeb4ba" /><polygon points="650.9,725.5 653.0,725.5 653.0,727.0 650.9,727.0" fill="#aeb4ba" /><polygon points="644.2,689.1 677.0,686.1 677.0,705.8 651.6,708.8 644.2,702.2" fill="#d6d3cc" /><polygon points="644.2,689.1 651.6,690.9 651.6,708.8 644.2,702.2" fill="#b6b3ac" /><polygon points="651.6,675.2 676.4,675.2 676.7,686.4 644.2,689.4 643.6,679.0" fill="#3b4662" /><polygon points="658.4,676.3 672.8,676.3 672.8,684.3 658.4,684.6" fill="#8c919c" /><polyline points="652.4,708.5 652.4,710.6" fill="none" stroke="#999" stroke-width="1" /><polyline points="673.3,705.8 673.3,707.6" fill="none" stroke="#999" stroke-width="1" /><polygon points="695.7,684.9 727.3,683.7 760.1,689.4 761.6,710.3 751.2,712.7 697.8,714.8" fill="#eceeef" stroke="#c4c7ca" stroke-width="0.5"/><polygon points="696.0,684.9 725.8,683.4 725.8,687.3 696.0,688.8" fill="#3a3a3c" /><polygon points="699.7,696.9 713.9,696.1 713.9,701.3 699.7,702.1" fill="#333" /><polygon points="716.9,689.4 723.6,689.1 723.6,693.1 716.9,693.4" fill="#444" /><polygon points="728.8,676.0 738.1,676.0 738.1,697.2 728.8,697.2" fill="#d9dcde" /><polygon points="718.4,680.4 727.6,679.0 727.6,684.3 718.4,685.2" fill="#45474b" /><polygon points="737.8,686.7 758.7,688.2 758.7,697.2 737.8,695.7" fill="#8fb9a8" /><polygon points="706.4,705.8 712.4,705.8 712.4,708.1 706.4,708.1" fill="#777" /><polygon points="728.1,704.6 734.0,704.6 734.0,706.7 728.1,706.7" fill="#777" /><polyline points="757.2,698.4 778.1,699.9 779.6,705.8" fill="none" stroke="#b4bcc4" stroke-width="1.6" /><polygon points="763.9,716.6 766.1,702.8 800.7,701.3 801.2,714.8 833.3,714.8 833.3,725.5 787.0,734.5 764.6,736.0" fill="#c7c5b9" /><polygon points="766.1,702.2 800.7,701.3 800.7,714.8 766.1,716.6" fill="#b5b3a5" /><polygon points="769.1,704.3 779.6,704.0 779.6,713.3 769.1,713.6" fill="#d9d7cb" /><polygon points="782.5,705.1 794.5,704.6 794.5,714.2 782.5,714.5" fill="#dedcd0" /><polygon points="787.0,714.8 833.3,714.8 833.3,717.5 787.0,718.1" fill="#d9d7cc" /><polygon points="770.6,719.3 777.5,719.3 777.5,734.5 770.6,735.1" fill="#a8bacb" /><polyline points="786.7,694.6 787.0,734.2" fill="none" stroke="#8d8b80" stroke-width="1.0" /><polygon points="814.6,681.2 824.6,679.7 825.2,709.7 815.4,708.8" fill="#4c4e53" /><polygon points="814.6,681.2 816.9,680.9 817.6,709.1 815.4,708.8" fill="#17181a" /><polygon points="824.3,679.7 839.3,678.2 839.3,711.8 826.6,712.7" fill="#8c8f94" /><polygon points="824.3,679.7 828.2,679.4 828.8,712.7 826.6,712.7" fill="#151618" /><polygon points="840.0,678.2 844.6,678.1 844.6,718.7 840.7,719.6" fill="#131416" /><polygon points="844.6,678.1 854.2,677.5 854.2,717.8 844.6,718.7" fill="#9b9ea3" /><polygon points="833.3,684.9 837.0,684.6 837.0,692.4 833.3,692.7" fill="#c9ccd0" /><polygon points="854.2,680.7 910.0,684.2 910.0,705.1 856.0,713.6" fill="#9a9ea5" /><polygon points="855.7,698.4 910.0,693.9 910.0,705.1 856.0,713.6" fill="#b9bcc2" /><polygon points="854.9,681.2 878.1,682.7 878.1,697.6 855.4,699.1" fill="#7b7f8a" /><polygon points="858.7,690.9 866.1,690.9 866.1,697.6 858.7,698.1" fill="#b03040" /><polygon points="878.1,689.4 893.0,689.4 893.0,696.1 878.1,696.9" fill="#3c3e44" /><polygon points="900.0,690.9 943.6,690.1 943.6,697.2 934.3,703.1 916.4,707.3 900.0,712.1" fill="#9a9ea3" /><polygon points="903.0,697.6 909.0,697.6 909.0,709.1 903.0,710.3" fill="#f4f4f4" /><polygon points="900.0,690.9 934.3,690.3 934.3,693.9 900.0,694.6" fill="#83878d" /><polygon points="933.6,689.4 944.2,690.9 942.1,702.2 935.2,701.3" fill="#404246" /><polygon points="936.6,707.3 977.6,713.3 965.7,725.5 937.3,718.1" fill="#bbbfc3" /><polygon points="914.2,714.8 936.6,716.3 935.8,735.7 914.2,732.7" fill="#dedede" stroke="#b5b5b5" stroke-width="0.5"/><polygon points="946.3,722.2 966.6,723.7 965.7,741.6 946.3,739.6" fill="#dedede" stroke="#b5b5b5" stroke-width="0.5"/><polyline points="914.9,718.5 935.8,720.0" fill="none" stroke="#f6f6f6" stroke-width="0.8" /><polyline points="947.0,726.0 965.7,727.5" fill="none" stroke="#f6f6f6" stroke-width="0.8" /><polyline points="914.9,722.2 935.8,723.7" fill="none" stroke="#f6f6f6" stroke-width="0.8" /><polyline points="947.0,729.6 965.7,731.0" fill="none" stroke="#f6f6f6" stroke-width="0.8" /><polyline points="914.9,726.0 935.8,727.5" fill="none" stroke="#f6f6f6" stroke-width="0.8" /><polyline points="947.0,733.1 965.7,734.6" fill="none" stroke="#f6f6f6" stroke-width="0.8" /><polyline points="914.9,729.7 935.8,731.2" fill="none" stroke="#f6f6f6" stroke-width="0.8" /><polyline points="947.0,736.7 965.7,738.2" fill="none" stroke="#f6f6f6" stroke-width="0.8" /><polygon points="935.8,703.6 983.6,711.0 983.6,715.1 935.8,707.6" fill="#d63a36" /><polygon points="979.9,713.3 983.9,713.3 985.4,729.1 981.3,730.0" fill="#d63a36" /><polygon points="965.7,726.7 970.1,725.5 973.4,740.1 967.5,741.9" fill="#d63a36" /><polygon points="914.2,726.7 919.1,707.6 925.7,699.3 928.1,709.1 925.4,709.1 923.9,703.6 921.8,708.5 917.3,728.5" fill="#d63a36" /><polygon points="930.6,701.3 935.1,700.6 935.8,714.8 932.1,714.8" fill="#c8524e" /><polygon points="966.4,693.9 989.6,690.9 1001.5,676.3 1019.4,676.9 1022.4,692.4 1013.7,713.3 1004.5,727.6 986.6,722.5 967.2,706.1" fill="#d3d6d9" /><polygon points="991.0,696.9 1004.5,684.9 1007.8,699.9 995.5,709.1" fill="#7d8186" /><polygon points="1003.0,677.2 1017.9,677.5 1019.4,689.4 1007.5,692.4" fill="#e9ebec" /><polygon points="989.6,709.1 1004.5,705.8 1003.0,719.6 988.1,718.1" fill="#9a9ea3" /><polygon points="967.9,695.4 983.6,693.9 985.1,704.3 970.1,705.8" fill="#eceeef" /><polygon points="1013.4,676.7 1019.4,676.0 1020.1,681.2 1014.2,681.2" fill="#55585d" /><polygon points="1023.9,680.7 1030.1,679.0 1109.0,685.7 1109.9,715.7 1055.2,714.8 1053.7,721.0 1023.9,723.1" fill="#2fa03c" /><polygon points="1041.8,688.2 1106.0,689.7 1106.0,712.1 1041.8,713.6" fill="#1b2e1e" /><polygon points="1040.3,684.2 1108.2,686.7 1108.2,689.7 1040.3,687.9" fill="#3db54a" /><polygon points="1046.3,692.4 1055.5,692.4 1055.5,699.9 1047.0,699.9" fill="#e9efe9" /><polygon points="1064.2,692.4 1071.6,692.4 1071.6,705.8 1064.2,705.8" fill="#4e9a55" /><polygon points="1076.1,693.9 1088.1,693.9 1088.1,704.3 1076.1,704.6" fill="#2f7a3a" /><polygon points="1095.5,695.4 1101.8,695.4 1101.8,701.6 1095.5,701.6" fill="#c43030" /><polygon points="1100.0,704.3 1106.3,704.3 1106.3,710.6 1100.0,710.6" fill="#b5b830" /><polygon points="1038.8,708.5 1054.0,708.5 1054.0,719.6 1038.8,719.9" fill="#55b845" /><polygon points="1024.6,681.9 1028.7,681.3 1028.7,722.2 1024.6,722.5" fill="#1f8a2c" /><polygon points="1071.6,707.3 1092.5,708.1 1092.5,713.3 1071.6,713.3" fill="#e4e8e4" /><polygon points="1025.4,710.3 1034.3,710.0 1034.3,714.8 1025.4,714.8" fill="#1c1c1c" /><polygon points="1119.7,676.0 1137.6,676.0 1138.4,686.4 1119.0,686.4" fill="#3f7fc0" /><polygon points="1121.2,686.4 1136.9,686.4 1136.9,698.7 1121.2,698.7" fill="#cfd9e4" /><polygon points="1122.7,688.7 1135.4,688.7 1135.4,692.4 1122.7,692.4" fill="#5f8fc4" /><polygon points="1118.2,698.4 1139.6,698.4 1139.6,718.1 1118.2,718.1" fill="#2f6fb5" /><polygon points="1121.9,702.1 1127.2,702.1 1127.2,714.8 1121.9,714.8" fill="#6fa0d6" /><polygon points="1160.0,676.0 1174.9,676.0 1175.7,686.4 1159.3,686.4" fill="#3f7fc0" /><polygon points="1161.5,686.4 1174.2,686.4 1174.2,698.7 1161.5,698.7" fill="#cfd9e4" /><polygon points="1163.0,688.7 1172.7,688.7 1172.7,692.4 1163.0,692.4" fill="#5f8fc4" /><polygon points="1158.5,698.4 1176.9,698.4 1176.9,718.1 1158.5,718.1" fill="#2f6fb5" /><polygon points="1162.2,702.1 1167.5,702.1 1167.5,714.8 1162.2,714.8" fill="#6fa0d6" /><polygon points="1142.1,684.2 1157.8,684.2 1157.8,717.2 1142.1,717.2" fill="#d9d0c2" /><polygon points="1147.3,687.9 1154.2,687.9 1154.2,697.2 1147.3,697.2" fill="#6d9ace" /><polygon points="1175.7,689.4 1181.9,689.4 1181.9,700.1 1175.7,700.1" fill="#50545a" /><polygon points="1185.4,681.2 1199.6,681.2 1199.6,688.7 1185.4,688.7" fill="#3f7fc0" /><polygon points="1186.9,688.7 1198.8,688.7 1198.8,698.7 1186.9,698.7" fill="#cfd9e4" /><polygon points="1201.0,683.4 1217.8,683.4 1217.8,698.7 1201.0,698.7" fill="#e1dccf" /><polygon points="1220.4,675.2 1241.3,675.2 1241.6,686.7 1220.7,686.7" fill="#2f62b8" /><polygon points="1223.4,686.7 1240.1,686.7 1240.1,698.7 1223.4,698.7" fill="#c8d4e0" /><polygon points="1183.1,698.1 1245.1,698.7 1245.1,700.1 1183.1,699.9" fill="#2a2c30" /><polygon points="1183.1,699.9 1237.2,699.9 1236.9,728.5 1220.4,727.0 1184.6,719.6" fill="#1f48a8" /><polygon points="1177.9,703.6 1187.9,703.6 1187.9,713.6 1177.9,713.3" fill="#f2c81e" /><polygon points="1213.7,705.1 1237.8,704.3 1236.9,721.6 1214.5,721.0" fill="#f2c81e" /><polygon points="1219.0,705.8 1220.7,705.8 1220.7,720.7 1219.0,720.7" fill="#b08a1a" /><polygon points="1183.1,714.8 1187.9,714.8 1187.9,720.1 1183.1,720.1" fill="#b02a2a" /><polygon points="1221.2,722.2 1229.7,722.2 1229.7,727.9 1221.2,727.6" fill="#b02a2a" /><polygon points="1193.6,701.3 1198.1,701.3 1198.1,713.3 1193.6,713.3" fill="#3a62c0" /><polygon points="1263.7,676.3 1295.1,679.3 1295.1,702.2 1265.2,702.2" fill="#8a89a4" /><polygon points="1266.0,675.2 1281.9,675.2 1281.9,679.9 1266.0,679.9" fill="#5a50b0" /><polygon points="1272.7,684.9 1289.4,684.9 1289.4,691.2 1272.7,691.2" fill="#dfe1ea" /><polygon points="1268.2,692.4 1293.6,692.4 1293.6,702.2 1268.2,702.2" fill="#c8c8d4" /><polygon points="1289.1,680.4 1295.1,681.2 1295.1,698.4 1289.9,698.4" fill="#7a5a5a" /><polygon points="1260.0,702.1 1295.1,702.1 1295.1,731.5 1270.4,736.0 1260.0,730.0" fill="#d6dbdc" stroke="#b3b8ba" stroke-width="0.5"/><polygon points="1260.0,702.1 1268.2,703.7 1268.2,735.1 1260.0,730.0" fill="#b9bec0" /><polygon points="1286.1,717.8 1293.0,717.8 1293.0,728.5 1286.1,728.5" fill="#aab0b3" /><polygon points="1270.4,735.7 1274.2,735.1 1274.2,737.9 1270.9,737.9" fill="#888" /><polygon points="1311.0,709.2 1317.3,704.6 1332.3,694.5 1364.6,695.4 1376.1,703.4 1375.2,711.8 1362.3,722.1 1326.5,719.8 1311.5,714.1" fill="#1c1c20" /><polygon points="1317.3,704.6 1331.4,704.0 1331.4,712.9 1317.3,711.8" fill="#f2cf1e" /><polygon points="1334.6,705.8 1357.9,705.2 1355.6,714.1 1334.6,713.4" fill="#f2cf1e" /><polygon points="1336.3,687.3 1341.1,686.7 1342.2,701.4 1336.9,701.8" fill="#f2cf1e" /><polygon points="1352.5,686.7 1356.7,686.1 1357.3,700.7 1353.1,701.1" fill="#f2cf1e" /><polygon points="1337.1,686.1 1340.6,685.7 1340.8,687.5 1337.4,688.0" fill="#333" /><polygon points="1352.8,685.7 1356.5,685.2 1356.7,687.1 1353.1,687.5" fill="#333" /><polygon points="1338.1,700.6 1356.7,699.4 1359.1,704.1 1336.9,704.8" fill="#f2f2f2" /><polygon points="1362.3,690.8 1369.2,691.9 1370.4,703.4 1364.6,702.3" fill="#b8bac0" /><path d="M1396.3,675.8 L1428.0,675.2 Q1431.7,675.5 1431.9,680.4 L1432.2,710.6 L1396.9,711.2 Z" fill="#1a1b1e"/><polygon points="1403.2,676.9 1414.4,676.9 1414.4,692.6 1403.2,692.6" fill="#4a4c52" /><polygon points="1422.8,692.6 1440.3,691.5 1440.3,709.9 1423.4,709.4" fill="#17181b" /><polygon points="1412.5,706.9 1420.2,706.9 1420.2,711.1 1412.5,711.1" fill="#3f8a55" /><polygon points="1396.9,710.9 1433.8,709.8 1433.8,714.1 1412.5,716.9 1397.5,714.1" fill="#222326" /><polygon points="1397.5,713.8 1412.5,716.7 1412.5,742.9 1398.0,734.8" fill="url(#dubg)" /><polygon points="1412.5,716.7 1433.8,713.8 1432.6,734.8 1412.5,742.9" fill="#8e9298" /><polygon points="1414.2,724.2 1430.3,721.9 1430.1,732.3 1414.2,736.3" fill="#6a6e74" /><polygon points="1415.3,725.4 1420.0,724.8 1420.0,728.8 1415.3,729.4" fill="#2a2c30" /><polygon points="357.5,315.0 376.2,311.0 397.1,313.1 379.0,319.5" fill="#bcc0c6" /><polygon points="357.5,315.0 379.0,319.5 379.0,361.4 358.2,356.4" fill="#2c303a" /><polygon points="379.0,319.5 397.1,313.1 397.1,352.4 379.0,361.4" fill="#1e2127" /><polyline points="379.5,326.2 396.8,319.7" fill="none" stroke="#3c4048" stroke-width="0.6" /><polyline points="379.5,332.4 396.8,325.7" fill="none" stroke="#3c4048" stroke-width="0.6" /><polyline points="379.5,338.7 396.8,331.7" fill="none" stroke="#3c4048" stroke-width="0.6" /><polyline points="379.5,344.9 396.8,337.7" fill="none" stroke="#3c4048" stroke-width="0.6" /><polyline points="379.5,351.2 396.8,343.7" fill="none" stroke="#3c4048" stroke-width="0.6" /><polygon points="370.0,322.7 378.1,324.5 378.1,326.7 370.0,325.0" fill="#8fb4dc" /><polyline points="358.7,317.7 378.1,321.7" fill="none" stroke="#4a5060" stroke-width="0.5" /><polygon points="370.0,328.0 378.1,329.7 378.1,331.9 370.0,330.2" fill="#8fb4dc" /><polyline points="358.7,323.0 378.1,327.0" fill="none" stroke="#4a5060" stroke-width="0.5" /><polygon points="370.0,333.2 378.1,334.9 378.1,337.2 370.0,335.4" fill="#8fb4dc" /><polyline points="358.7,328.2 378.1,332.2" fill="none" stroke="#4a5060" stroke-width="0.5" /><polygon points="370.0,338.4 378.1,340.2 378.1,342.4 370.0,340.7" fill="#8fb4dc" /><polyline points="358.7,333.4 378.1,337.4" fill="none" stroke="#4a5060" stroke-width="0.5" /><polygon points="358.2,356.4 379.0,361.4 387.4,358.0 387.4,359.9 379.0,363.7 358.2,358.4" fill="#7a7e86" /><polygon points="388.1,344.9 398.7,351.2 407.4,346.2 407.4,354.9 398.1,361.2 388.4,354.9" fill="#e9e4dc" /><polygon points="387.2,343.1 394.9,331.8 401.8,330.2 407.4,345.6 398.7,350.9" fill="#b0641f" /><polygon points="394.9,331.8 401.8,330.2 398.7,339.9 393.7,338.9" fill="#d9a066" /><polygon points="394.9,352.4 398.7,354.3 398.7,359.9 394.9,358.0" fill="#8a8a8a" /><path d="M1103.5,312 Q1103.5,307.5 1109,307.5 L1130,307.5 Q1135,307.5 1135,312 L1134,343 L1132.5,376 Q1132,381 1127,381 L1111,381 Q1106,381 1105.5,376 L1104,343 Z" fill="#9fb0c4" opacity="0.75"/><polygon points="1103.9,308.7 1134.4,308.7 1134.4,340.4 1103.9,340.4" fill="#454a50" /><polygon points="1103.9,340.4 1134.4,340.4 1132.6,377.4 1106.9,377.4" fill="#6f767f" /><polygon points="1106.0,311.7 1127.2,311.7 1127.2,339.2 1106.0,339.2" fill="#14a814" /><polygon points="1108.1,314.1 1125.4,314.1 1125.4,330.8 1108.1,330.8" fill="#22c022" /><polygon points="1127.8,309.3 1134.4,309.3 1134.4,340.4 1127.8,340.4" fill="#5e646c" /><polygon points="1112.3,347.6 1121.2,347.6 1121.2,351.8 1112.3,351.8" fill="#d9b23a" /><polyline points="1108.1,353.5 1131.4,353.5" fill="none" stroke="#5a6068" stroke-width="0.8" /><polyline points="1108.1,357.4 1131.4,357.4" fill="none" stroke="#5a6068" stroke-width="0.8" /><polyline points="1108.1,361.2 1131.4,361.2" fill="none" stroke="#5a6068" stroke-width="0.8" /><polyline points="1108.1,365.0 1131.4,365.0" fill="none" stroke="#5a6068" stroke-width="0.8" /><polyline points="1108.1,368.8 1131.4,368.8" fill="none" stroke="#5a6068" stroke-width="0.8" /><polyline points="1108.1,372.7 1131.4,372.7" fill="none" stroke="#5a6068" stroke-width="0.8" /><polyline points="1109.9,352.3 1109.9,376.2" fill="none" stroke="#5a6068" stroke-width="0.6" /><polyline points="1114.9,352.3 1114.9,376.2" fill="none" stroke="#5a6068" stroke-width="0.6" /><polyline points="1119.9,352.3 1119.9,376.2" fill="none" stroke="#5a6068" stroke-width="0.6" /><polyline points="1124.9,352.3 1124.9,376.2" fill="none" stroke="#5a6068" stroke-width="0.6" /><polyline points="1129.9,352.3 1129.9,376.2" fill="none" stroke="#5a6068" stroke-width="0.6" /></g></svg>
<svg width="0" height="0" style="left:0;top:0"><defs><linearGradient id="cg" x1="0" x2="1" y1="0" y2="0"><stop offset="0" stop-color="#ffd800"/><stop offset="0.07" stop-color="#fff400"/><stop offset="0.16" stop-color="#ffff00"/><stop offset="0.84" stop-color="#ffff00"/><stop offset="0.93" stop-color="#fff400"/><stop offset="1" stop-color="#ffd800"/></linearGradient></defs></svg><svg style="left:434.5px;top:293px;" width="69.5" height="75.0" viewBox="0 0 69.5 75.0"><path d="M0.8,6.2 A34.0,5.4 0 0 1 68.7,6.2 L68.7,68.8 A34.0,5.4 0 0 1 0.8,68.8 Z" fill="url(#cg)" stroke="#ffc000" stroke-width="1.6"/><ellipse cx="34.8" cy="6.2" rx="34.0" ry="5.4" fill="#ffff70" stroke="#ffc000" stroke-width="1.4"/></svg><div class="t k" style="left:369.2px;width:200px;text-align:center;top:312.5px;font-size:18.3px;letter-spacing:0.6px;">WIPDB</div><div class="t k" style="left:369.2px;width:200px;text-align:center;top:336px;font-size:18.3px;">在制品</div><div class="t k" style="left:369.2px;width:200px;text-align:center;top:358.5px;font-size:18.3px;">数据库</div><svg style="left:1406.1px;top:391.4px;" width="67.0" height="74.3" viewBox="0 0 67.0 74.3"><path d="M0.8,6.2 A32.7,5.4 0 0 1 66.2,6.2 L66.2,68.1 A32.7,5.4 0 0 1 0.8,68.1 Z" fill="url(#cg)" stroke="#ffc000" stroke-width="1.6"/><ellipse cx="33.5" cy="6.2" rx="32.7" ry="5.4" fill="#ffff70" stroke="#ffc000" stroke-width="1.4"/></svg><div class="t k" style="left:1339.6px;width:200px;text-align:center;top:409.7px;font-size:16.8px;letter-spacing:-0.8px;">ODSDB</div><div class="t k" style="left:1339.6px;width:200px;text-align:center;top:430.9px;font-size:16.8px;">历史</div><div class="t k" style="left:1339.6px;width:200px;text-align:center;top:450.4px;font-size:16.8px;">数据库</div><svg style="left:1415.4px;top:499.1px;" width="63.2" height="68.3" viewBox="0 0 63.2 68.3"><path d="M0.8,6.2 A30.8,5.4 0 0 1 62.4,6.2 L62.4,62.1 A30.8,5.4 0 0 1 0.8,62.1 Z" fill="url(#cg)" stroke="#ffc000" stroke-width="1.6"/><ellipse cx="31.6" cy="6.2" rx="30.8" ry="5.4" fill="#ffff70" stroke="#ffc000" stroke-width="1.4"/></svg><div class="t k" style="left:1347.0px;width:200px;text-align:center;top:515.3px;font-size:16.8px;letter-spacing:-0.3px;">RTDB</div><div class="t k" style="left:1347.0px;width:200px;text-align:center;top:536.2px;font-size:16.8px;">实时</div><div class="t k" style="left:1347.0px;width:200px;text-align:center;top:557.2px;font-size:16.8px;">数据库</div>
</div></div>
</body>
</html>
